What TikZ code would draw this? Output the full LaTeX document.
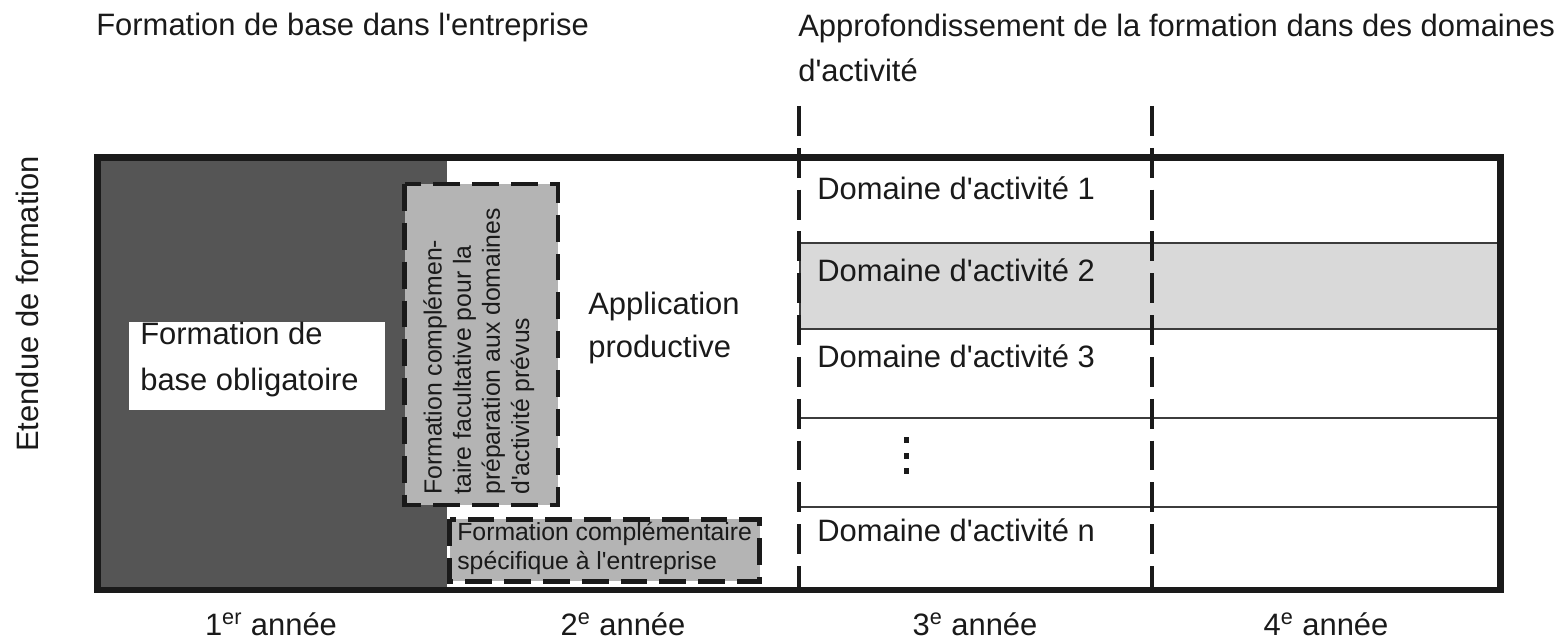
\documentclass[tikz,border=0pt]{standalone}
\usepackage{fontspec}
\setmainfont{Liberation Sans}
\definecolor{ink}{HTML}{1A1A1A}
\definecolor{basefill}{HTML}{555555}
\definecolor{optfill}{HTML}{B4B4B4}
\definecolor{bandfill}{HTML}{D9D9D9}
\newcommand{\bigfont}{\fontsize{17.6}{26}\selectfont}
\newcommand{\smallfont}{\fontsize{14.1}{16.6}\selectfont}
\newcommand{\apos}{\textquotesingle}

\begin{document}
\begin{tikzpicture}[
    outerframe/.style={line width=3.97pt, draw=ink},
    yearline/.style={line width=2.27pt, draw=ink, dash pattern=on 17pt off 6.8pt},
    optbox/.style={line width=2.83pt, draw=ink, fill=optfill, dash pattern=on 15.3pt off 6.8pt},
    rowline/.style={line width=0.85pt, draw=ink!85},
    bigtext/.style={inner sep=0pt, text=ink, font=\bigfont, align=left},
    smalltext/.style={inner sep=0pt, text=ink, font=\smallfont, align=left}]
  \useasboundingbox (0,0) rectangle (31.34,12.82);
  % first year: compulsory base training
  \fill[basefill] (1.95,9.67) rectangle (8.94,1.02);
  \fill[white] (2.58,6.38) rectangle (7.70,4.62);
  % activity domains
  \draw[rowline, fill=bandfill] (16.0,7.96) rectangle (30.01,6.24);
  \draw[rowline] (16.0,4.46) -- (30.01,4.46);
  \draw[rowline] (16.0,2.68) -- (30.01,2.68);
  \draw[yearline] (15.98,10.70) -- (15.98,1.02);
  \draw[yearline] (23.04,10.70) -- (23.04,1.02);
  \draw[outerframe] (1.95,9.67) rectangle (30.01,1.02);
  % optional and company specific training
  \draw[optbox] (8.09,9.14) rectangle (11.16,2.72);
  \draw[optbox] (8.99,2.43) rectangle (15.19,1.19);
  \fill[ink] (18.07,4.08) rectangle (18.17,3.96);
  \fill[ink] (18.07,3.76) rectangle (18.17,3.64);
  \fill[ink] (18.07,3.46) rectangle (18.17,3.34);

  \node[bigtext, anchor=base west] (basehead) at (1.92,12.10) {Formation de base dans l\apos entreprise};
  \node[bigtext, anchor=north west] (deephead) at (15.96,12.55) {Approfondissement de la formation dans des domaines\\d\apos activit\'e};
  \node[bigtext, rotate=90, anchor=base west] (scope) at (0.76,3.78) {Etendue de formation};
  \node[bigtext, anchor=north west] (basemain) at (2.80,6.38) {Formation de\\base obligatoire};
  \node[smalltext, rotate=90, anchor=north west] (optional) at (8.46,2.92) {Formation compl\'emen-\\taire facultative pour la\\pr\'eparation aux domaines\\d\apos activit\'e pr\'evus};
  \node[smalltext, anchor=north west] (specific) at (9.14,2.39) {Formation compl\'ementaire\\sp\'ecifique \`a l\apos entreprise};
  \node[bigtext, anchor=north west, font=\fontsize{17.6}{24.4}\selectfont] (applied) at (11.76,6.98) {Application\\productive};
  \node[bigtext, anchor=base west] (dom1) at (16.34,8.82) {Domaine d\apos activit\'e 1};
  \node[bigtext, anchor=base west] (dom2) at (16.34,7.18) {Domaine d\apos activit\'e 2};
  \node[bigtext, anchor=base west] (dom3) at (16.34,5.46) {Domaine d\apos activit\'e 3};
  \node[bigtext, anchor=base west] (domn) at (16.34,1.98) {Domaine d\apos activit\'e n};
  \node[bigtext, anchor=base] (year1) at (5.42,0.10) {1\textsuperscript{er} ann\'ee};
  \node[bigtext, anchor=base] (year2) at (12.46,0.10) {2\textsuperscript{e} ann\'ee};
  \node[bigtext, anchor=base] (year3) at (19.50,0.10) {3\textsuperscript{e} ann\'ee};
  \node[bigtext, anchor=base] (year4) at (26.52,0.10) {4\textsuperscript{e} ann\'ee};
\end{tikzpicture}
\end{document}
